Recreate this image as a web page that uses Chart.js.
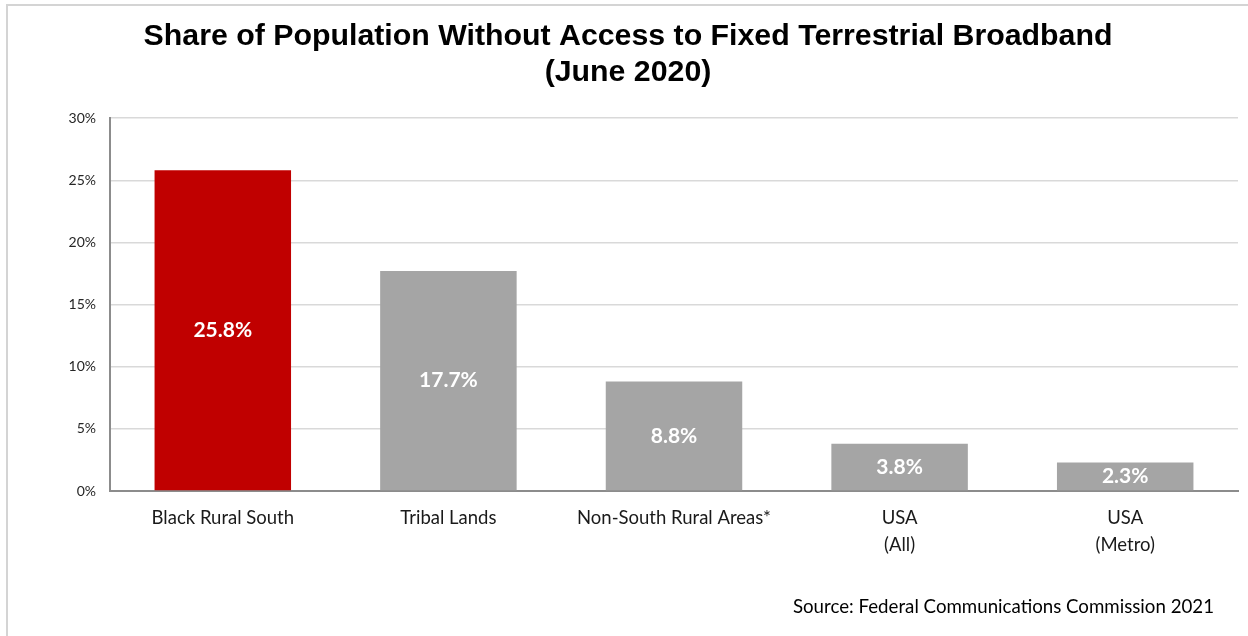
<!DOCTYPE html>
<html>
<head>
<meta charset="utf-8">
<title>Share of Population Without Access to Fixed Terrestrial Broadband</title>
<script src="https://cdn.jsdelivr.net/npm/chart.js@4/dist/chart.umd.min.js"></script>
<style>
  html, body { margin: 0; padding: 0; background: #fff; }
  #frame {
    position: absolute; left: 6px; top: 4px; width: 1242px; height: 632px;
    border-left: 2px solid #d4d4d4; border-top: 2px solid #d4d4d4;
  }
  #wrap { position: absolute; left: 0; top: 0; width: 1248px; height: 636px; }
</style>
</head>
<body>
<div id="frame"></div>
<div id="wrap"><canvas id="chart"></canvas></div>
<script>
// Share of population without fixed terrestrial broadband, June 2020 (percent)
const categories = [
  "Black Rural South",
  "Tribal Lands",
  "Non-South Rural Areas*",
  ["USA", "(All)"],
  ["USA", "(Metro)"]
];
const shares = [25.8, 17.7, 8.8, 3.8, 2.3];
const barColors = ["#C00000", "#A5A5A5", "#A5A5A5", "#A5A5A5", "#A5A5A5"];
const yTicks = [0, 5, 10, 15, 20, 25, 30];
const sourceNote = "Source: Federal Communications Commission 2021";

const bodyFont = "Lato, 'Open Sans', sans-serif";

// writes the value in the middle of each bar, plus the source line
const barValueLabels = {
  id: "barValueLabels",
  afterDatasetsDraw(chart) {
    const ctx = chart.ctx;
    const meta = chart.getDatasetMeta(0);
    ctx.save();
    ctx.fillStyle = "#ffffff";
    ctx.font = "bold 21px " + bodyFont;
    ctx.textAlign = "center";
    ctx.textBaseline = "middle";
    meta.data.forEach((bar, i) => {
      const mid = (bar.y + bar.base) / 2;
      ctx.fillText(shares[i].toFixed(1) + "%", bar.x, mid);
    });
    ctx.restore();
  },
  afterDraw(chart) {
    const ctx = chart.ctx;
    ctx.save();
    ctx.fillStyle = "#000000";
    ctx.font = "18.7px " + bodyFont;
    ctx.textAlign = "right";
    ctx.textBaseline = "middle";
    ctx.fillText(sourceNote, chart.width - 34, chart.height - 29);
    ctx.restore();
  }
};

new Chart(document.getElementById("chart"), {
  type: "bar",
  data: {
    labels: categories,
    datasets: [{
      data: shares,
      backgroundColor: barColors,
      borderWidth: 0,
      categoryPercentage: 1.0,
      barPercentage: 0.605
    }]
  },
  options: {
    responsive: true,
    maintainAspectRatio: false,
    animation: false,
    layout: { padding: { left: 18, right: 10, top: 0, bottom: 0 } },
    plugins: {
      legend: { display: false },
      tooltip: { enabled: false },
      title: {
        display: true,
        text: ["Share of Population Without Access to Fixed Terrestrial Broadband", "(June 2020)"],
        color: "#000000",
        font: { family: "Arial, 'Liberation Sans', sans-serif", size: 30.3, weight: "bold", lineHeight: 1.19 },
        padding: { top: 19, bottom: 27 }
      }
    },
    scales: {
      x: {
        grid: { display: false, drawTicks: false },
        border: { color: "#8c8c8c", width: 2 },
        ticks: {
          color: "#1a1a1a",
          font: { family: bodyFont, size: 18.5, lineHeight: 1.45 },
          padding: 14,
          maxRotation: 0
        },
        afterFit: (s) => { s.height = 145; }
      },
      y: {
        min: 0,
        max: 30,
        afterBuildTicks: (s) => { s.ticks = yTicks.map(v => ({ value: v })); },
        grid: { color: "#d9d9d9", lineWidth: 1.5, drawTicks: false },
        border: { color: "#8c8c8c", width: 2 },
        ticks: {
          color: "#262626",
          font: { family: bodyFont, size: 14 },
          padding: 14,
          callback: (v) => v + "%"
        },
        afterFit: (s) => { s.width = 92; }
      }
    }
  },
  plugins: [barValueLabels]
});
</script>
</body>
</html>
